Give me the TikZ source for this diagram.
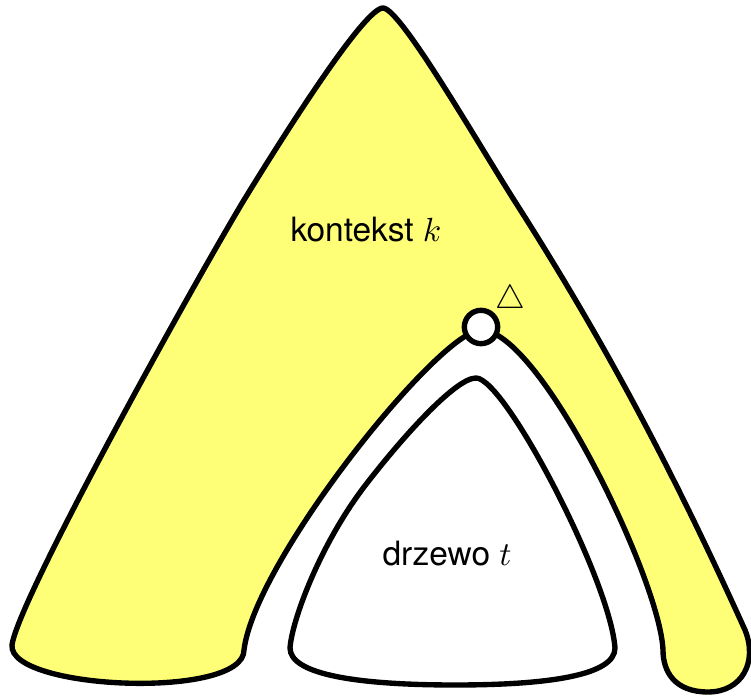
\documentclass[tikz,border=0pt]{standalone}
\usepackage{fontspec}
\setsansfont{TeX Gyre Heros}
\definecolor{ctxyellow}{RGB}{255,255,119}
\begin{document}
\begin{tikzpicture}[x=0.0105cm,y=-0.0105cm,line width=1.6pt,font=\sffamily]
            \useasboundingbox (0,0) rectangle (751,696);

            % Draw context (with the hole)
            \draw[fill=ctxyellow] (383,8)
              .. controls (400,8) and (476,140) .. (514,200)
              .. controls (610,350) and (677,480) .. (745,630)
              .. controls (758,662) and (742,692) .. (708,692)
              .. controls (675,692) and (663,672) .. (663,650)
              .. controls (660,580) and (540,330) .. (481,330)
              .. controls (440,330) and (255,560) .. (244,650)
              .. controls (244,700) and (8,690) .. (12,645)
              .. controls (18,600) and (190,290) .. (244,200)
              .. controls (290,125) and (365,8) .. (383,8) -- cycle;

            % Draw tree
            \draw[fill=white] (476,378)
              .. controls (455,378) and (400,440) .. (364,487)
              .. controls (320,545) and (292,620) .. (290,648)
              .. controls (290,675) and (360,685) .. (455,685)
              .. controls (550,685) and (615,675) .. (615,648)
              .. controls (610,580) and (505,378) .. (476,378) -- cycle;

            % Hole and labels
            \node[circle,draw,fill=white,inner sep=0pt,minimum size=3.5mm] (hole) at (481,327) {};
            \node (delta) at (510,300) {$\triangle$};
            \node (ctx) at (366,230) {kontekst $k$};
            \node (tree) at (447,554) {drzewo $t$};
        \end{tikzpicture}
\end{document}
